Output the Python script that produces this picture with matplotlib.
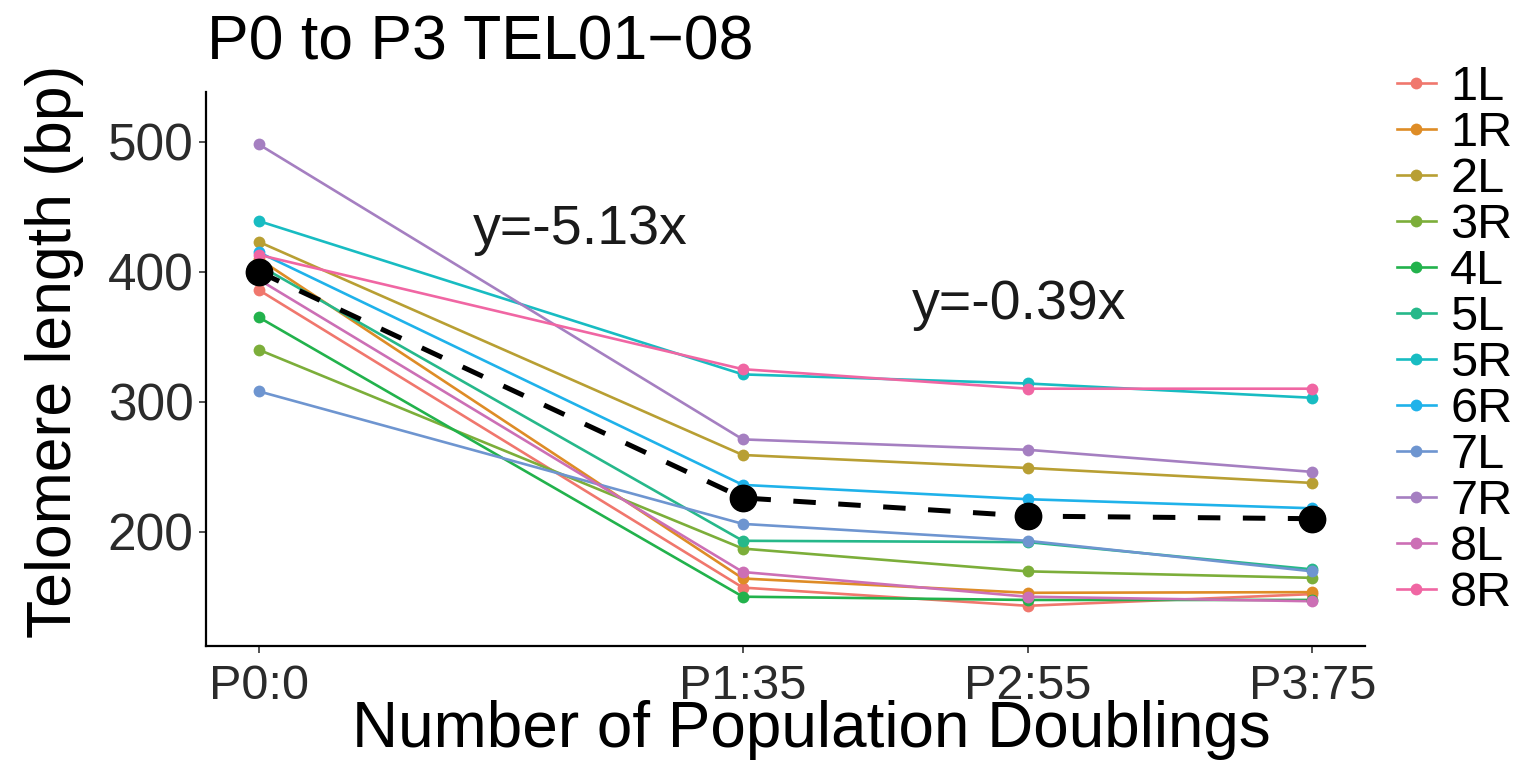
import numpy as np
import matplotlib
matplotlib.use('Agg')
from matplotlib import pyplot as plt
from matplotlib.lines import Line2D

plt.rcParams['font.family'] = ['Liberation Sans', 'DejaVu Sans']

# population doublings (x positions) and their tick labels
pd_x = [0, 34, 54, 74]
x_labels = ['P0:0', 'P1:35', 'P2:55', 'P3:75']

# telomere length (bp) per chromosome arm at P0, P1, P2, P3
tel_1L = [386, 157, 143, 152]
tel_1R = [410, 164, 153, 153.5]
tel_2L = [423, 259, 249, 237.5]
tel_3R = [340, 187, 169.5, 164.5]
tel_4L = [365, 150, 147.5, 147.5]
tel_5L = [405, 193, 192, 171]
tel_5R = [439, 321, 314, 303]
tel_6R = [415, 236, 225, 218]
tel_7L = [308, 206, 193, 169.5]
tel_7R = [498, 271, 263, 246]
tel_8L = [394, 169, 150, 146.5]
tel_8R = [413, 325, 310, 310]

# mean line (black dashed)
mean_len = [400, 226, 212, 210]

arm_names = ['1L', '1R', '2L', '3R', '4L', '5L', '5R', '6R', '7L', '7R', '8L', '8R']
arm_colors = ['#F0776D', '#DE8C26', '#B89F33', '#7CAE3A', '#22B24C', '#26B88A',
              '#18BCC2', '#1FB2EA', '#6E95D0', '#A57FC1', '#CC6FB5', '#F066A3']
arm_values = [tel_1L, tel_1R, tel_2L, tel_3R, tel_4L, tel_5L,
              tel_5R, tel_6R, tel_7L, tel_7R, tel_8L, tel_8R]

fig = plt.figure(figsize=(15.35, 7.76), dpi=100)
ax = fig.add_axes([0.1342, 0.1679, 0.7551, 0.7135])

#lines first, then points (like ggplot layers)
for vals, c in zip(arm_values, arm_colors):
    ax.plot(pd_x, vals, color=c, lw=1.9, zorder=2, solid_capstyle='butt')
for vals, c in zip(arm_values, arm_colors):
    ax.plot(pd_x, vals, ls='none', marker='o', ms=8.5, color=c, mec='none', zorder=3)

ax.plot(pd_x, mean_len, color='black', lw=3.6, dashes=(4.5, 4.5), zorder=4)
ax.plot(pd_x, mean_len, ls='none', marker='o', ms=19, color='black', zorder=5)

ax.text(22.6, 432, 'y=-5.13x', fontsize=40, ha='center', va='center', color='#1a1a1a')
ax.text(53.4, 374, 'y=-0.39x', fontsize=40, ha='center', va='center', color='#1a1a1a')

ax.set_xlim(-3.7, 77.7)
ax.set_ylim(112.3, 538.2)
ax.set_xticks(pd_x)
ax.set_xticklabels(x_labels)
ax.set_yticks([200, 300, 400, 500])
ax.tick_params(length=5, width=1.2, color='#333333', labelcolor='#2b2b2b')
ax.tick_params(axis='x', labelsize=35, pad=8)
ax.tick_params(axis='y', labelsize=37, pad=4)
for s in ['top', 'right']:
    ax.spines[s].set_visible(False)
for s in ['left', 'bottom']:
    ax.spines[s].set_linewidth(1.6)

ax.set_xlabel('Number of Population Doublings', fontsize=46)
ax.xaxis.set_label_coords(0.522, -0.152)
ax.xaxis.label.set_va('center')
ax.set_ylabel('Telomere length (bp)', fontsize=45)
ax.yaxis.set_label_coords(-0.131, 0.532)
ax.yaxis.label.set_va('center')
fig.text(0.135, 0.945, 'P0 to P3 TEL01\u221208', fontsize=45, ha='left', va='center')

handles = [Line2D([0], [0], color=c, lw=1.9, marker='o', ms=8.5, mec='none') for c in arm_colors]
leg = fig.legend(handles, arm_names, loc='upper left', bbox_to_anchor=(0.910, 0.916),
                 frameon=False, fontsize=35, handlelength=0.8, handletextpad=0.3,
                 labelspacing=0.02, borderaxespad=0, borderpad=0)

plt.savefig('out.png', dpi=100)
